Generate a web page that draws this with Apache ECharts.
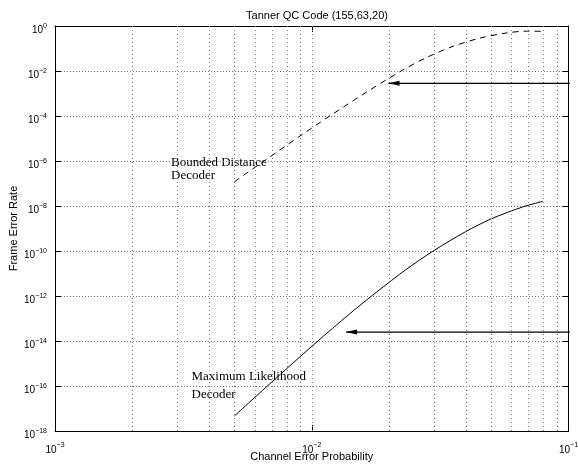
<!DOCTYPE html>
<html>
<head>
<meta charset="utf-8">
<script src="https://cdn.jsdelivr.net/npm/echarts@6/dist/echarts.min.js"></script>
<style>
  html, body { margin: 0; padding: 0; background: #fff; }
  #chart { width: 578px; height: 464px; }
</style>
</head>
<body>
<div id="chart"></div>
<script>
// bounded distance decoder (dashed)
const bdProb = [0.0050, 0.00667, 0.00891, 0.01178, 0.01637, 0.01959, 0.0227, 0.02799, 0.03556, 0.04519, 0.05741, 0.06871, 0.0798]
const bdRate = [1.2e-7, 1.2e-6, 1.19e-5, 1.02e-4, 1.16e-3, 4.16e-3, 1.13e-2, 3.98e-2, 0.1256, 0.290, 0.492, 0.589, 0.581]
// maximum likelihood decoder (solid)
const mlProb = [0.0050, 0.00687, 0.01028, 0.01409, 0.01791, 0.02339, 0.02972, 0.03972, 0.0500, 0.06668, 0.07962]
const mlRate = [4.68e-18, 1.26e-16, 7.6e-15, 1.66e-13, 1.51e-12, 1.55e-11, 1.0e-10, 7.2e-10, 2.69e-9, 9.3e-9, 1.62e-8]
// arrows: [from x (off the right edge), tip x, y]
const arrows = [[0.115, 0.0199, 2.84e-3], [0.115, 0.0136, 2.5e-14]]
// vertical dotted grid (log minor lines)
const gridX = [0.002, 0.003, 0.004, 0.005, 0.006, 0.007, 0.008, 0.009, 0.01,
  0.02, 0.03, 0.04, 0.05, 0.06, 0.07, 0.08, 0.09]

const sans = 'Liberation Sans'
const serif = 'Liberation Serif'

function powLabel(v) {
  const e = Math.round(Math.log10(v))
  const s = e < 0 ? '\u2212' + (-e) : String(e)
  return '{b|10}{e|' + s + '}'
}
const labelRich = {
  b: { fontFamily: sans, fontSize: 10, color: '#000', lineHeight: 11, verticalAlign: 'bottom' },
  e: { fontFamily: sans, fontSize: 7, color: '#000', lineHeight: 19 }
}

const arrowSeries = arrows.map(a => ({
  type: 'line',
  clip: false,
  silent: true,
  symbol: 'none',
  lineStyle: { color: '#000', width: 1.2 },
  data: [
    [a[0], a[2]],
    { value: [a[1], a[2]], symbol: 'triangle', symbolSize: [5, 11], symbolRotate: 90, symbolOffset: [5.5, 0], itemStyle: { color: '#000' } }
  ],
  z: 5
}))

const chart = echarts.init(document.getElementById('chart'))
chart.setOption({
  animation: false,
  title: {
    text: 'Tanner QC Code (155,63,20)',
    left: 312,
    top: 5,
    textAlign: 'center',
    textStyle: { fontFamily: sans, fontSize: 11, fontWeight: 'normal', color: '#000' }
  },
  grid: { left: 55, right: 9.5, top: 26, bottom: 33, outerBoundsMode: 'none' },
  xAxis: [
    {
      type: 'log',
      min: 0.001,
      max: 0.1,
      interval: 1,
      name: 'Channel Error Probability',
      nameLocation: 'middle',
      nameGap: 20,
      nameMoveOverlap: false,
      nameTextStyle: { fontFamily: sans, fontSize: 11, color: '#000' },
      axisLine: { lineStyle: { color: '#000', width: 1 } },
      axisTick: { inside: true, length: 6, lineStyle: { color: '#000' } },
      axisLabel: { formatter: powLabel, rich: labelRich, margin: 5 },
      splitLine: { show: false }
    },
    {
      type: 'log',
      position: 'top',
      min: 0.001,
      max: 0.1,
      interval: 1,
      axisLine: { lineStyle: { color: '#000', width: 1 } },
      axisTick: { inside: true, length: 6, lineStyle: { color: '#000' } },
      axisLabel: { show: false },
      splitLine: { show: false }
    }
  ],
  yAxis: [
    {
      type: 'log',
      min: 1e-18,
      max: 1,
      interval: 2,
      name: 'Frame Error Rate',
      nameLocation: 'middle',
      nameGap: 36,
      nameMoveOverlap: false,
      nameTextStyle: { fontFamily: sans, fontSize: 11, color: '#000' },
      axisLine: { lineStyle: { color: '#000', width: 1 } },
      axisTick: { inside: true, length: 6, lineStyle: { color: '#000' } },
      axisLabel: { formatter: powLabel, rich: labelRich, margin: 8 },
      splitLine: { show: true, lineStyle: { color: '#777', width: 1, type: [1, 2] } }
    },
    {
      type: 'log',
      position: 'right',
      min: 1e-18,
      max: 1,
      interval: 2,
      axisLine: { lineStyle: { color: '#000', width: 1 } },
      axisTick: { inside: true, length: 6, lineStyle: { color: '#000' } },
      axisLabel: { show: false },
      splitLine: { show: false }
    }
  ],
  graphic: [
    { type: 'text', x: 171, y: 162.3, style: { text: 'Bounded Distance', fontFamily: serif, fontSize: 13, fill: '#000', verticalAlign: 'middle' } },
    { type: 'text', x: 171, y: 175.6, style: { text: 'Decoder', fontFamily: serif, fontSize: 13, fill: '#000', verticalAlign: 'middle' } },
    { type: 'text', x: 191.5, y: 376.3, style: { text: 'Maximum Likelihood', fontFamily: serif, fontSize: 13, fill: '#000', verticalAlign: 'middle' } },
    { type: 'text', x: 191.5, y: 394.6, style: { text: 'Decoder', fontFamily: serif, fontSize: 13, fill: '#000', verticalAlign: 'middle' } }
  ],
  series: [
    {
      name: 'Bounded Distance',
      type: 'line',
      smooth: 0.3,
      showSymbol: false,
      lineStyle: { color: '#000', width: 1, type: [6, 5] },
      data: bdProb.map((x, i) => [x, bdRate[i]]),
      markLine: {
        silent: true,
        precision: 6,
        symbol: ['none', 'none'],
        label: { show: false },
        lineStyle: { color: '#777', width: 1, type: [1, 3] },
        data: gridX.map(v => ({ xAxis: v }))
      }
    },
    {
      name: 'Maximum Likelihood',
      type: 'line',
      smooth: 0.3,
      showSymbol: false,
      lineStyle: { color: '#000', width: 1 },
      data: mlProb.map((x, i) => [x, mlRate[i]])
    },
    ...arrowSeries
  ]
})
</script>
</body>
</html>
